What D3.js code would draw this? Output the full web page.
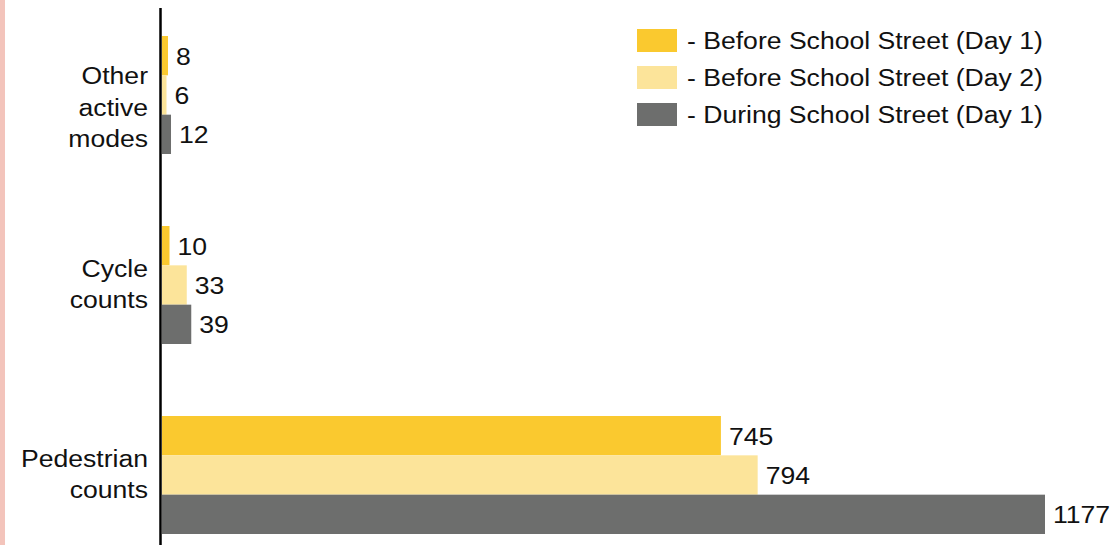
<!DOCTYPE html>
<html><head><meta charset="utf-8">
<script src="https://cdn.jsdelivr.net/npm/d3@7"></script>
<style>html,body{margin:0;padding:0;background:#fff;}svg{display:block;}text{font-family:"Liberation Sans",Arial,sans-serif;fill:#111;}</style>
</head><body>
<svg id="chart" width="1117" height="545"></svg>
<script>
const categories = ["Other active modes", "Cycle counts", "Pedestrian counts"];
const categoryLines = [["Other", "active", "modes"], ["Cycle", "counts"], ["Pedestrian", "counts"]];
const seriesNames = ["- Before School Street (Day 1)", "- Before School Street (Day 2)", "- During School Street (Day 1)"];
const beforeDay1 = [8, 10, 745];
const beforeDay2 = [6, 33, 794];
const duringDay1 = [12, 39, 1177];
const seriesValues = [beforeDay1, beforeDay2, duringDay1];
const colors = ["#fac92f", "#fce49a", "#6d6e6d"];

const W = 1117, H = 545;
const svg = d3.select("#chart");
const fs = 24.5, sx = 1.085;

function addText(parent, tx, ty, str, anchor) {
  return parent.append("text")
    .attr("transform", `translate(${tx},${ty}) scale(${sx},1)`)
    .attr("text-anchor", anchor || "start")
    .attr("font-size", fs)
    .text(str);
}

// pink strip on left edge
svg.append("rect").attr("x", 0).attr("y", 0).attr("width", 5).attr("height", H).attr("fill", "#f3c4bb");

const x = d3.scaleLinear().domain([0, 1177]).range([162, 1045]);
const y = d3.scaleBand().domain(categories).range([36, 534]).paddingInner(72 / 190).paddingOuter(0);
const ySub = d3.scaleBand().domain(d3.range(seriesNames.length)).range([0, y.bandwidth()]).padding(0);

categories.forEach((cat, ci) => {
  const g = svg.append("g").attr("transform", `translate(0,${y(cat)})`);
  seriesValues.forEach((vals, si) => {
    const v = vals[ci];
    g.append("rect")
      .attr("x", x(0)).attr("y", ySub(si))
      .attr("width", x(v) - x(0)).attr("height", ySub.bandwidth())
      .attr("fill", colors[si]);
    addText(g, x(v) + 8, ySub(si) + ySub.bandwidth() / 2 + 9, v);
  });
  // category label
  const lines = categoryLines[ci];
  const lh = 31.5;
  const center = y(cat) + y.bandwidth() / 2;
  const shift = lines.length > 2 ? 13 : 0;
  lines.forEach((ln, li) => {
    addText(svg, 148, center + 7.5 + shift + (li - (lines.length - 1) / 2) * lh, ln, "end");
  });
});

// axis line
svg.append("line").attr("x1", 160.5).attr("x2", 160.5).attr("y1", 8).attr("y2", H)
  .attr("stroke", "#000").attr("stroke-width", 2.5);

// legend
const leg = svg.append("g").attr("transform", "translate(637,29)");
seriesNames.forEach((name, i) => {
  const row = leg.append("g").attr("transform", `translate(0,${i * 37})`);
  row.append("rect").attr("width", 40).attr("height", 23).attr("fill", colors[i]);
  addText(row, 50, 20, name);
});
</script>
</body></html>
